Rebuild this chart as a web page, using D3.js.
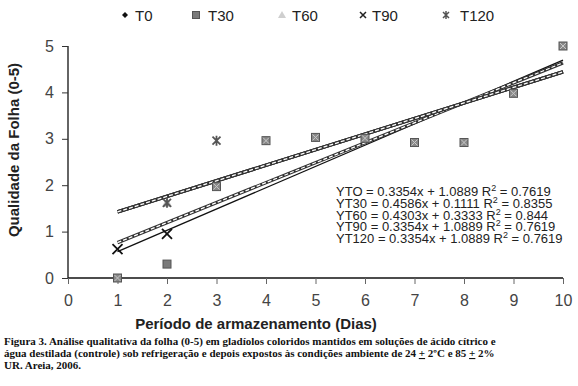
<!DOCTYPE html>
<html>
<head>
<meta charset="utf-8">
<script src="https://cdn.jsdelivr.net/npm/d3@7"></script>
<style>
  body { margin: 0; background: #fff; }
</style>
</head>
<body>
<div id="plot"></div>
<script>
// data
let days = [1, 2, 3, 4, 5, 6, 7, 8, 9, 10];
let seriesNames = ["T0", "T30", "T60", "T90", "T120"];
let t0 = [null, null, 1.97, 2.96, 3.03, 3.01, 2.92, 2.92, 3.98, 5.0];
let t30 = [0, 0.30, 1.97, 2.96, 3.03, 3.01, 2.92, 2.92, 3.98, 5.0];
let t60 = [null, 1.62, null, null, null, null, null, null, null, null];
let t90 = [0.62, 0.95, null, null, null, null, null, null, null, null];
let t120 = [null, 1.62, 2.96, null, null, null, null, null, null, null];
// regression lines (slope, intercept) as printed
let fitSlope = [0.3354, 0.4586, 0.4303, 0.3354, 0.3354];
let fitIntercept = [1.0889, 0.1111, 0.3333, 1.0889, 1.0889];
let eqText = [
  ["YTO = 0.3354x + 1.0889 R", "  = 0.7619"],
  ["YT30 = 0.4586x + 0.1111 R", " = 0.8355"],
  ["YT60 = 0.4303x + 0.3333 R", " = 0.844"],
  ["YT90 = 0.3354x + 1.0889 R", " = 0.7619"],
  ["YT120 = 0.3354x + 1.0889 R", " = 0.7619"]
];
let xTicks = [0, 1, 2, 3, 4, 5, 6, 7, 8, 9, 10];
let yTicks = [0, 1, 2, 3, 4, 5];
let caption = [
  "Figura 3. Análise qualitativa da folha (0-5) em gladíolos coloridos mantidos em soluções de ácido cítrico e",
  "água destilada (controle) sob refrigeração e depois expostos às condições ambiente de 24 # 2ºC e 85 # 2%",
  "UR. Areia, 2006."
];

let sans = '"Liberation Sans", Arial, sans-serif';
let serif = '"Liberation Serif", "Times New Roman", serif';
let svgWidth = 578, svgHeight = 386;
let x = d3.scaleLinear().domain([0, 10]).range([68, 563]);
let y = d3.scaleLinear().domain([0, 5]).range([278, 46]);

let svg = d3.select('#plot').append('svg')
  .attr('width', svgWidth).attr('height', svgHeight)
  .style('font-family', sans);

// axes
let xAxis = d3.axisBottom(x).tickValues(xTicks).tickSize(6).tickFormat(d3.format('d'));
let yAxis = d3.axisLeft(y).tickValues(yTicks).tickSize(6).tickFormat(d3.format('d'));

let gx = svg.append('g').attr('transform', 'translate(0,278)').call(xAxis);
gx.select('.domain').attr('d', 'M68,0H563').attr('stroke', '#111').attr('stroke-width', 1.3);
gx.selectAll('.tick line').attr('stroke', '#666');
gx.selectAll('.tick text').attr('font-size', 16).attr('fill', '#444').attr('dy', '1.2em')
  .attr('font-family', sans);

let gy = svg.append('g').attr('transform', 'translate(68,0)').call(yAxis);
gy.select('.domain').attr('d', 'M0,46V278').attr('stroke', '#111').attr('stroke-width', 1.3);
gy.selectAll('.tick line').attr('stroke', '#333');
gy.selectAll('.tick text').attr('font-size', 16).attr('fill', '#444').attr('x', -14)
  .attr('font-family', sans);

// titles
svg.append('text').attr('x', 256).attr('y', 329).attr('text-anchor', 'middle')
  .attr('font-size', 15).attr('font-weight', 'bold').attr('fill', '#222')
  .text('Período de armazenamento (Dias)');
svg.append('text').attr('transform', 'translate(19,150) rotate(-90)').attr('text-anchor', 'middle')
  .attr('font-size', 15).attr('font-weight', 'bold').attr('fill', '#222')
  .text('Qualidade da Folha (0-5)');

// fit lines
let lineStyle = ['ladder', 'solid', 'ladder', 'ladder', 'ladder'];
fitSlope.forEach(function(m, i) {
  let x0 = days[0], x1 = days[days.length - 1];
  let p = [[x(x0), y(m * x0 + fitIntercept[i])], [x(x1), y(m * x1 + fitIntercept[i])]];
  let d = d3.line()(p);
  if (lineStyle[i] == 'solid') {
    svg.append('path').attr('d', d).attr('stroke', '#111').attr('stroke-width', 1.3).attr('fill', 'none');
  } else {
    svg.append('path').attr('d', d).attr('stroke', '#333').attr('stroke-width', 3.4).attr('fill', 'none');
    svg.append('path').attr('d', d).attr('stroke', '#fff').attr('stroke-width', 1.3)
      .attr('stroke-dasharray', '4,2').attr('fill', 'none');
  }
});

// markers
function drawMarker(g, type, cx, cy) {
  if (type == 'diamond') {
    g.append('path').attr('d', `M${cx},${cy-4}L${cx+4},${cy}L${cx},${cy+4}L${cx-4},${cy}Z`).attr('fill', '#111');
  } else if (type == 'square') {
    g.append('rect').attr('x', cx - 4).attr('y', cy - 4).attr('width', 8).attr('height', 8)
      .attr('fill', '#7a7a7a').attr('stroke', '#555').attr('stroke-width', 1);
  } else if (type == 'hatch') {
    g.append('rect').attr('x', cx - 4).attr('y', cy - 4).attr('width', 8).attr('height', 8)
      .attr('fill', '#888').attr('stroke', '#555').attr('stroke-width', 1);
    g.append('path').attr('d', `M${cx-3},${cy-3}L${cx+3},${cy+3}M${cx+3},${cy-3}L${cx-3},${cy+3}`)
      .attr('stroke', '#c8c8c8').attr('stroke-width', 1);
  } else if (type == 'triangle') {
    g.append('path').attr('d', `M${cx},${cy-5}L${cx+5},${cy+4}L${cx-5},${cy+4}Z`).attr('fill', '#bdbdbd');
  } else if (type == 'cross') {
    g.append('path').attr('d', `M${cx-5},${cy-5}L${cx+5},${cy+5}M${cx+5},${cy-5}L${cx-5},${cy+5}`)
      .attr('stroke', '#111').attr('stroke-width', 1.8);
  } else if (type == 'asterisk') {
    g.append('path').attr('d', `M${cx-4},${cy-4}L${cx+4},${cy+4}M${cx+4},${cy-4}L${cx-4},${cy+4}M${cx},${cy-5}L${cx},${cy+5}`)
      .attr('stroke', '#555').attr('stroke-width', 1.8);
  }
}

let allSeries = [t0, t30, t60, t90, t120];
let markerType = ['diamond', 'square', 'triangle', 'cross', 'asterisk'];
let pts = svg.append('g');
allSeries.forEach(function(vals, i) {
  vals.forEach(function(v, j) {
    if (v == null) return;
    let type = markerType[i];
    // square sitting on an overlapping point looks cross-hatched
    if (type == 'square' && j != 1) type = 'hatch';
    drawMarker(pts, type, x(days[j]), y(v));
  });
});

// legend
let legendX = [125, 196, 282, 363, 446];
let legendTextX = [135, 208, 292, 372, 460];
let lg = svg.append('g');
seriesNames.forEach(function(n, i) {
  let t = markerType[i];
  let lx = legendX[i];
  if (t == 'diamond') {
    lg.append('path').attr('d', `M${lx},12L${lx+3},15L${lx},18L${lx-3},15Z`).attr('fill', '#111');
  } else if (t == 'cross') {
    lg.append('path').attr('d', `M${lx-3},12L${lx+3},18M${lx+3},12L${lx-3},18`)
      .attr('stroke', '#222').attr('stroke-width', 1.5);
  } else if (t == 'asterisk') {
    lg.append('path').attr('d', `M${lx-3},12L${lx+3},18M${lx+3},12L${lx-3},18M${lx},11L${lx},19`)
      .attr('stroke', '#555').attr('stroke-width', 1.5);
  } else if (t == 'square') {
    lg.append('rect').attr('x', lx - 3.5).attr('y', 11.5).attr('width', 7).attr('height', 7)
      .attr('fill', '#7a7a7a').attr('stroke', '#555');
  } else {
    lg.append('path').attr('d', `M${lx},11L${lx+4},18L${lx-4},18Z`).attr('fill', '#cfcfcf');
  }
  lg.append('text').attr('x', legendTextX[i]).attr('y', 21).attr('font-size', 15).attr('fill', '#222').text(n);
});

// equations
let eq = svg.append('g');
eqText.forEach(function(e, i) {
  let t = eq.append('text').attr('x', 336).attr('y', 196 + i * 11.8).attr('font-size', 13).attr('fill', '#222');
  t.append('tspan').text(e[0]);
  t.append('tspan').attr('dy', -5).attr('font-size', 9).text('2');
  t.append('tspan').attr('dy', 5).text(e[1]);
});

// caption
let cap = svg.append('g').style('font-family', serif);
caption.forEach(function(line, i) {
  let t = cap.append('text').attr('x', 4).attr('y', 345 + i * 12)
    .style('font-family', serif)
    .attr('font-size', 11).attr('font-weight', 'bold').attr('fill', '#111');
  line.split('#').forEach(function(part, k) {
    if (k > 0) t.append('tspan').attr('text-decoration', 'underline').text('+');
    t.append('tspan').text(part);
  });
});
</script>
</body>
</html>
